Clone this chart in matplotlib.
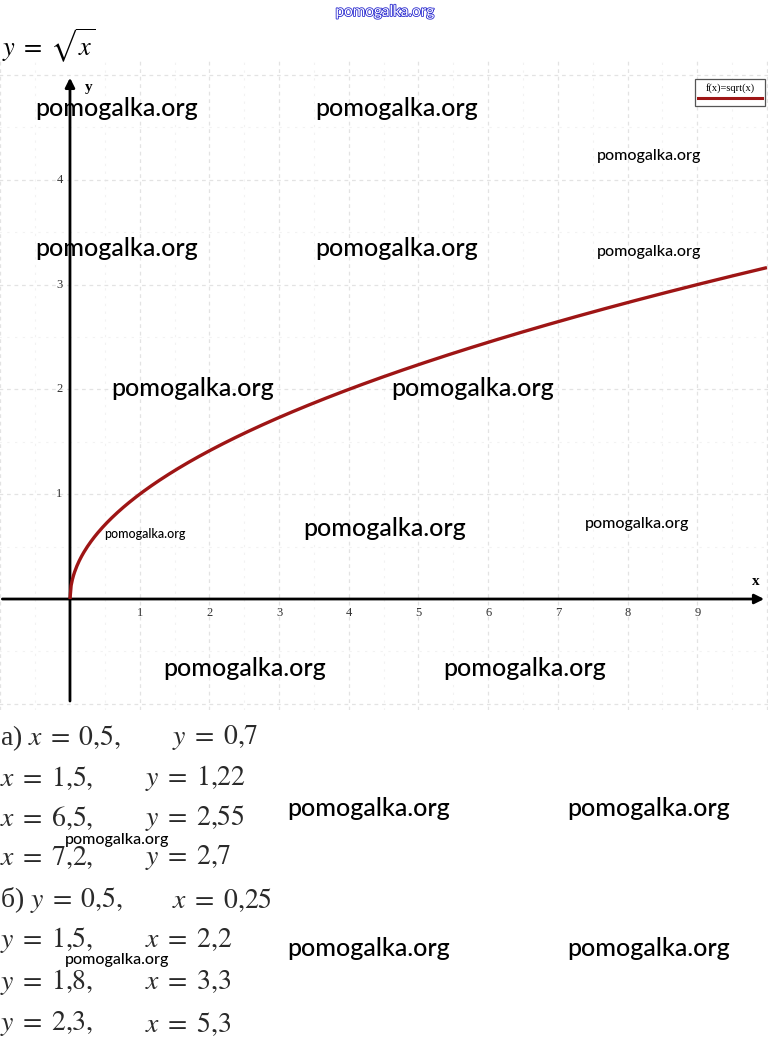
import numpy as np
import matplotlib
matplotlib.use("Agg")
import matplotlib.pyplot as plt
import matplotlib.patheffects as pe
from matplotlib.patches import Rectangle

plt.rcParams['mathtext.fontset'] = 'stix'

# data
x_ticks = [1, 2, 3, 4, 5, 6, 7, 8, 9]
y_ticks = [1, 2, 3, 4]
legend_label = "f(x)=sqrt(x)"
curve_x = np.linspace(0, 10, 600)
curve_y = np.sqrt(curve_x)   # the plotted function itself

# answers (left part, right part)
answers_a = [(r"а) $x\;=\;0{,}5,$", r"$y\;=\;0{,}7$"),
             (r"$x\;=\;1{,}5,$", r"$y\;=\;1{,}22$"),
             (r"$x\;=\;6{,}5,$", r"$y\;=\;2{,}55$"),
             (r"$x\;=\;7{,}2,$", r"$y\;=\;2{,}7$")]
answers_b = [(r"б) $y\;=\;0{,}5,$", r"$x\;=\;0{,}25$"),
             (r"$y\;=\;1{,}5,$", r"$x\;=\;2{,}2$"),
             (r"$y\;=\;1{,}8,$", r"$x\;=\;3{,}3$"),
             (r"$y\;=\;2{,}3,$", r"$x\;=\;5{,}3$")]

W, H = 768, 1038
fig = plt.figure(figsize=(W / 100, H / 100), dpi=100)

def fx(px):
    return px / W

def fy(py):
    return 1 - py / H

# plot area in pixels: top 60, bottom 710
ax = fig.add_axes([0, fy(710), 1, (710 - 60) / H])
ax.set_xlim(-1.004, 10.015)
ax.set_ylim(-1.059, 5.143)
ax.axis('off')

# grid
for gx in np.arange(-1, 10.01, 0.5):
    if gx == 0:
        continue
    if gx == int(gx):
        ax.plot([gx, gx], [-1.06, 5.2], color='#e3e3e3', lw=0.9, ls=(0, (3, 3)), zorder=1)
    else:
        ax.plot([gx, gx], [-1.06, 5.2], color='#f2f2f2', lw=0.8, ls=(0, (2, 5)), zorder=1)
for gy in np.arange(-1, 5.01, 0.5):
    if gy == 0:
        continue
    if gy == int(gy):
        ax.plot([-1.1, 10.1], [gy, gy], color='#e3e3e3', lw=0.9, ls=(0, (3, 3)), zorder=1)
    else:
        ax.plot([-1.1, 10.1], [gy, gy], color='#f2f2f2', lw=0.8, ls=(0, (2, 5)), zorder=1)

# axes with arrows
ax.annotate('', xy=(10.0, 0), xytext=(-1.01, 0),
            arrowprops=dict(arrowstyle='-|>', color='black', lw=2, mutation_scale=14), zorder=3)
ax.annotate('', xy=(0, 5.0), xytext=(0, -1.0),
            arrowprops=dict(arrowstyle='-|>', color='black', lw=2, mutation_scale=14), zorder=3)
ax.text(9.84, 0.17, 'x', fontsize=11, fontweight='bold', family='Liberation Serif',
        ha='center', va='center')
ax.text(0.27, 4.88, 'y', fontsize=11, fontweight='bold', family='Liberation Serif',
        ha='center', va='center')

for t in x_ticks:
    ax.text(t, -0.135, str(t), fontsize=9, family='Liberation Serif', color='#333333',
            ha='center', va='center')
for t in y_ticks:
    ax.text(-0.15, t, str(t), fontsize=9, family='Liberation Serif', color='#333333',
            ha='center', va='center')

# curve
ax.plot(curve_x, curve_y, color='#9e1515', lw=2.4, zorder=4, solid_capstyle='butt')

# legend box
fig.patches.append(Rectangle((fx(695), fy(106)), fx(765) - fx(695), (106 - 79) / H,
                             transform=fig.transFigure, facecolor='white',
                             edgecolor='#555555', lw=0.9, zorder=5))
fig.text(fx(730), fy(88), legend_label, fontsize=7.5, family='Liberation Serif',
         ha='center', va='center', zorder=6)
fig.add_artist(plt.Line2D([fx(698), fx(762)], [fy(98), fy(98)], color='#9e1515', lw=2.2,
                          transform=fig.transFigure, zorder=6))

# header
fig.text(fx(385), fy(12), 'pomogalka.org', fontsize=11, family='Lato', color='white',
         ha='center', va='center',
         path_effects=[pe.withStroke(linewidth=1.2, foreground='#2a2ad0')])
fig.text(fx(2), fy(46), r'$y\;=\;\sqrt{x}$', fontsize=19, ha='left', va='center')

# answers
rows = answers_a + answers_b
row_y = [738, 778, 818, 858, 900, 940, 982, 1024]
right_x = [172, 145, 145, 145, 172, 145, 145, 145]
for (left, right), py, rx in zip(rows, row_y, right_x):
    fig.text(fx(0), fy(py), left, fontsize=20, family='Liberation Serif',
             color='#2a2a2a', ha='left', va='center')
    fig.text(fx(rx), fy(py), right, fontsize=20, family='Liberation Serif',
             color='#2a2a2a', ha='left', va='center')

# watermarks: (center x px, center y px, size)
marks = [(117, 108, 18), (397, 108, 18), (649, 156, 11.5),
         (117, 248, 18), (397, 248, 18), (649, 252, 11.5),
         (193, 388, 18), (473, 388, 18),
         (145, 534, 9), (385, 528, 18), (637, 524, 11.5),
         (245, 668, 18), (525, 668, 18),
         (369, 808, 18), (649, 808, 18), (117, 840, 11.5),
         (369, 948, 18), (649, 948, 18), (117, 960, 11.5)]
for mx, my, ms in marks:
    fig.text(fx(mx), fy(my), 'pomogalka.org', fontsize=ms, family='Lato',
             fontweight='medium', color='black', ha='center', va='center', zorder=10)

fig.savefig('out.png', dpi=100)
